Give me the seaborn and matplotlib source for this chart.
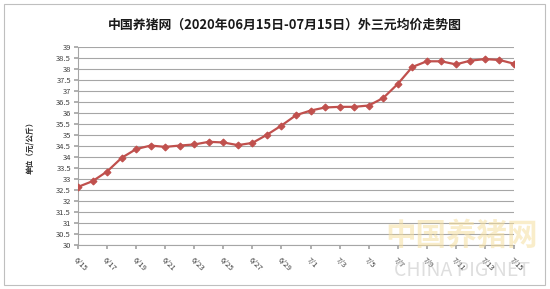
import matplotlib
matplotlib.use("Agg")
import matplotlib.pyplot as plt
import seaborn as sns
import pandas as pd
import numpy as np

dates = ["6/15", "6/16", "6/17", "6/18", "6/19", "6/20", "6/21", "6/22", "6/23", "6/24",
         "6/25", "6/26", "6/27", "6/28", "6/29", "6/30", "7/1", "7/2", "7/3", "7/4",
         "7/5", "7/6", "7/7", "7/8", "7/9", "7/10", "7/11", "7/12", "7/13", "7/14", "7/15"]
prices = [32.64, 32.90, 33.34, 33.96, 34.36, 34.52, 34.46, 34.52, 34.57, 34.69,
          34.66, 34.54, 34.64, 35.01, 35.43, 35.90, 36.11, 36.25, 36.28, 36.28,
          36.34, 36.68, 37.32, 38.09, 38.35, 38.35, 38.21, 38.38, 38.45, 38.41, 38.24]
title = "中国养猪网（2020年06月15日-07月15日）外三元均价走势图"
ylabel = "单位（元/公斤）"

sns.set_theme(style="white")
plt.rcParams['font.family'] = ['Noto Sans CJK SC', 'DejaVu Sans']

df = pd.DataFrame({"idx": range(len(dates)), "date": dates, "price": prices})

fig = plt.figure(figsize=(5.5, 2.89), dpi=100)
fig.patch.set_facecolor("white")
ax = fig.add_axes([78/550, 1-245/289, (514-78)/550, (245-47)/289])

sns.lineplot(data=df, x="idx", y="price", ax=ax, color="#C0504D", linewidth=1.6,
             marker="D", markersize=3.5, markeredgewidth=0.8, markeredgecolor="#C0504D",
             zorder=3)

ax.set_xlim(0, len(dates) - 1)
ax.set_ylim(30, 39)
ax.set_yticks(np.arange(30, 39.01, 0.5))
ax.set_yticklabels([f"{v:g}" for v in np.arange(30, 39.01, 0.5)], fontsize=5.5, color="#404040")
ax.set_xticks(range(0, len(dates), 2))
ax.set_xticklabels(dates[::2], rotation=-45, ha="left", va="top", fontsize=5.5,
                   color="#404040", rotation_mode="anchor")
ax.set_xlabel("")
ax.set_ylabel(ylabel, fontsize=5.5, fontweight="bold", labelpad=16)
ax.yaxis.grid(True, color="#A6A6A6", linewidth=0.8)
ax.xaxis.grid(False)
for s in ["top", "right"]:
    ax.spines[s].set_visible(False)
for s in ["left", "bottom"]:
    ax.spines[s].set_color("#A6A6A6")
    ax.spines[s].set_linewidth(0.8)
ax.tick_params(axis="x", which="both", bottom=True, length=3, color="#A6A6A6", pad=5)
ax.tick_params(axis="y", which="both", left=True, length=3, color="#A6A6A6", pad=2)

fig.text(285/550, 1-25/289, title, ha="center", va="center", fontsize=9.3, fontweight="bold",
         color="#1a1a1a")

# watermark
fig.text(462/550, 1-236/289, "中国养猪网", ha="center", va="center", fontsize=22,
         color="#F5DFA0", alpha=0.55, fontweight="bold", zorder=0)
fig.text(462/550, 1-270/289, "CHINA PIG NET", ha="center", va="center", fontsize=14,
         color="#C8C8C8", alpha=0.6, zorder=0)

# chart border
fig.add_artist(plt.Rectangle((4/550, 4/289), 541/550, 281/289, transform=fig.transFigure,
                             fill=False, edgecolor="#BFBFBF", linewidth=0.8))

fig.savefig("out.png", dpi=100)
